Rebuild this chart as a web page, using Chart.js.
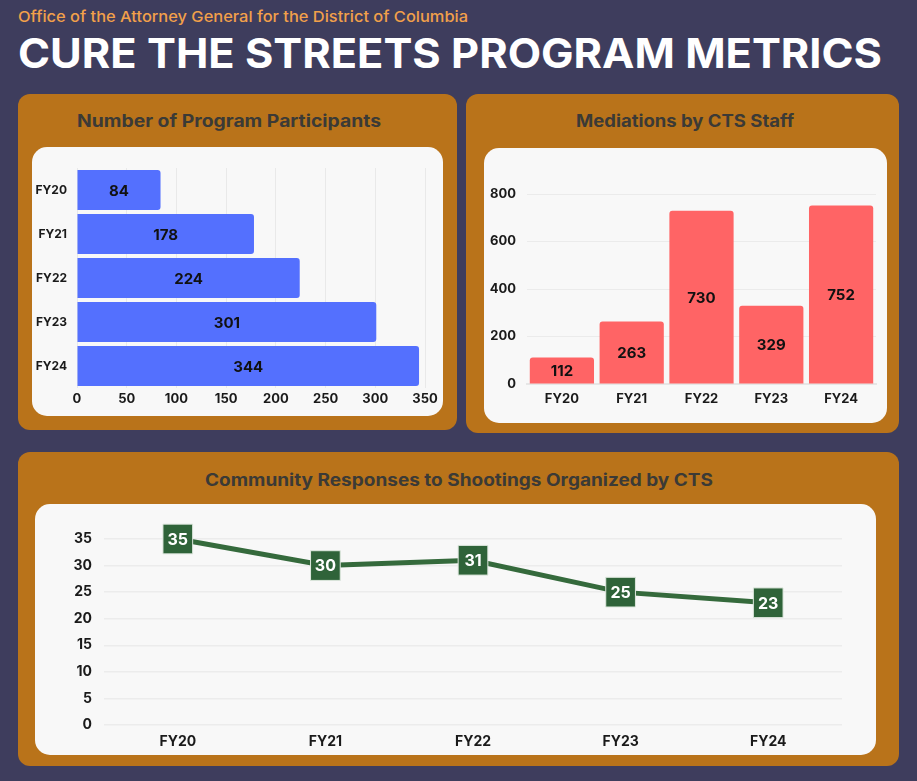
<!DOCTYPE html>
<html>
<head>
<meta charset="utf-8">
<title>Cure the Streets Program Metrics</title>
<script src="https://cdn.jsdelivr.net/npm/chart.js@4/dist/chart.umd.min.js"></script>
<style>
  html, body { margin: 0; padding: 0; }
  body {
    width: 917px; height: 781px; overflow: hidden;
    background: #3e3d5d;
    font-family: Inter, 'Open Sans', sans-serif;
    position: relative;
  }
  .fit { position: absolute; white-space: nowrap; transform-origin: 0 0; }
  #org { left: 18px; top: 7px; color: #f2a04a; font-size: 15px; font-weight: 500; }
  #title { left: 18px; top: 28px; color: #fff; font-size: 41px; font-weight: 700; }
  .panel { position: absolute; background: #b9731a; border-radius: 12px; }
  .ptitle { color: #3b3a36; font-size: 17px; font-weight: 700; }
  .box { position: absolute; background: #f8f8f8; border-radius: 15px; }
  .box canvas { position: absolute; left: 0; top: 0; }
</style>
</head>
<body>
<div id="org" class="fit" data-w="450">Office of the Attorney General for the District of Columbia</div>
<div id="title" class="fit" data-w="864">CURE THE STREETS PROGRAM METRICS</div>

<div class="panel" style="left:18px;top:94px;width:439px;height:336px;"></div>
<div class="panel" style="left:466px;top:94px;width:433px;height:339px;"></div>
<div class="panel" style="left:18px;top:452px;width:881px;height:314px;"></div>

<div class="fit ptitle" data-w="304" style="left:77px;top:111px;">Number of Program Participants</div>
<div class="fit ptitle" data-w="218" style="left:576px;top:111px;">Mediations by CTS Staff</div>
<div class="fit ptitle" data-w="508" style="left:205px;top:470px;">Community Responses to Shootings Organized by CTS</div>

<div class="box" style="left:32px;top:147px;width:411px;height:269px;"><canvas id="c1"></canvas></div>
<div class="box" style="left:484px;top:148px;width:403px;height:275px;"><canvas id="c2"></canvas></div>
<div class="box" style="left:35px;top:504px;width:841px;height:251px;"><canvas id="c3"></canvas></div>

<script>
// fiscal years
const years = ['FY20', 'FY21', 'FY22', 'FY23', 'FY24'];
// chart values
const participants = [84, 178, 224, 301, 344];
const mediations = [112, 263, 730, 329, 752];
const responses = [35, 30, 31, 25, 23];
// axis ticks
const participantTicks = [0, 50, 100, 150, 200, 250, 300, 350];
const mediationTicks = [0, 200, 400, 600, 800];
const responseTicks = [0, 5, 10, 15, 20, 25, 30, 35];

// stretch header texts to the measured widths
document.querySelectorAll('.fit').forEach((el) => {
  const w = el.getBoundingClientRect().width;
  el.style.transform = `scaleX(${el.dataset.w / w})`;
});

const FONT = 'Inter';
const tickFont = { family: FONT, size: 13, weight: '700' };

// draws each value in the middle of its bar / point
const valueLabels = {
  id: 'valueLabels',
  afterDatasetsDraw(chart, args, opts) {
    const ctx = chart.ctx;
    const meta = chart.getDatasetMeta(0);
    const data = chart.data.datasets[0].data;
    ctx.save();
    ctx.font = `700 ${opts.size || 15}px ${FONT}`;
    ctx.fillStyle = opts.color || '#111';
    ctx.textAlign = 'center';
    ctx.textBaseline = 'middle';
    meta.data.forEach((el, i) => {
      const p = el.getCenterPoint();
      ctx.fillText(String(data[i]), p.x, p.y + 1);
    });
    ctx.restore();
  },
};

function sized(id, w, h) {
  const c = document.getElementById(id);
  c.width = w; c.height = h;
  c.style.width = w + 'px'; c.style.height = h + 'px';
  return c;
}

function fixedTicks(list) {
  return (scale) => { scale.ticks = list.map((v) => ({ value: v })); };
}

// Number of Program Participants
new Chart(sized('c1', 411, 269), {
  type: 'bar',
  data: {
    labels: years,
    datasets: [{
      data: participants,
      backgroundColor: '#5470fe',
      borderRadius: 3,
      borderSkipped: 'start',
      barPercentage: 0.91,
      categoryPercentage: 1,
    }],
  },
  options: {
    indexAxis: 'y',
    responsive: false,
    animation: false,
    layout: { padding: { top: 21, right: 18, left: 0, bottom: 0 } },
    plugins: { legend: { display: false }, tooltip: { enabled: false }, valueLabels: { color: '#111', size: 15 } },
    scales: {
      x: {
        min: 0, max: 350,
        afterBuildTicks: fixedTicks(participantTicks),
        afterFit: (s) => { s.height = 28; },
        ticks: { color: '#1a1a1a', font: tickFont, padding: 3 },
        grid: { color: '#e9e9e9', drawTicks: false },
        border: { display: false },
      },
      y: {
        afterFit: (s) => { s.width = 45; },
        ticks: { color: '#1a1a1a', font: { family: FONT, size: 12, weight: '700' }, padding: 10 },
        grid: { display: false, drawTicks: false },
        border: { display: false },
      },
    },
  },
  plugins: [valueLabels],
});

// Mediations by CTS Staff
new Chart(sized('c2', 403, 275), {
  type: 'bar',
  data: {
    labels: years,
    datasets: [{
      data: mediations,
      backgroundColor: '#ff6465',
      borderRadius: 3,
      borderSkipped: 'start',
      barPercentage: 0.92,
      categoryPercentage: 1,
    }],
  },
  options: {
    responsive: false,
    animation: false,
    layout: { padding: { top: 46, right: 11, left: 0, bottom: 0 } },
    plugins: { legend: { display: false }, tooltip: { enabled: false }, valueLabels: { color: '#111', size: 15 } },
    scales: {
      x: {
        afterFit: (s) => { s.height = 39; },
        ticks: { color: '#1a1a1a', font: tickFont, padding: 7 },
        grid: { display: false, drawTicks: false },
        border: { color: '#e6e6e6', width: 2 },
      },
      y: {
        min: 0, max: 800,
        afterBuildTicks: fixedTicks(mediationTicks),
        afterFit: (s) => { s.width = 43; },
        ticks: { color: '#1a1a1a', font: tickFont, padding: 11 },
        grid: { color: '#ebebeb', drawTicks: false },
        border: { display: false },
      },
    },
  },
  plugins: [valueLabels],
});

// Community Responses to Shootings Organized by CTS
new Chart(sized('c3', 841, 251), {
  type: 'line',
  data: {
    labels: years,
    datasets: [{
      data: responses,
      clip: false,
      borderColor: '#356a3c',
      borderWidth: 5,
      tension: 0,
      pointStyle: 'rect',
      pointRadius: 21,
      pointBackgroundColor: '#2f6339',
      pointBorderColor: '#dfe8df',
      pointBorderWidth: 1,
    }],
  },
  options: {
    responsive: false,
    animation: false,
    layout: { padding: { top: 35, right: 34, left: 0, bottom: 0 } },
    plugins: { legend: { display: false }, tooltip: { enabled: false }, valueLabels: { color: '#ffffff', size: 16 } },
    scales: {
      x: {
        offset: true,
        afterFit: (s) => { s.height = 30; },
        ticks: { color: '#1a1a1a', font: { family: FONT, size: 14, weight: '700' }, padding: 8 },
        grid: { display: false, drawTicks: false },
        border: { display: false },
      },
      y: {
        min: 0, max: 35,
        afterBuildTicks: fixedTicks(responseTicks),
        afterFit: (s) => { s.width = 69; },
        ticks: { color: '#1a1a1a', font: { family: FONT, size: 14, weight: '700' }, padding: 12 },
        grid: { color: '#ececec', lineWidth: 1.5, drawTicks: false },
        border: { display: false },
      },
    },
  },
  plugins: [valueLabels],
});
</script>
</body>
</html>
